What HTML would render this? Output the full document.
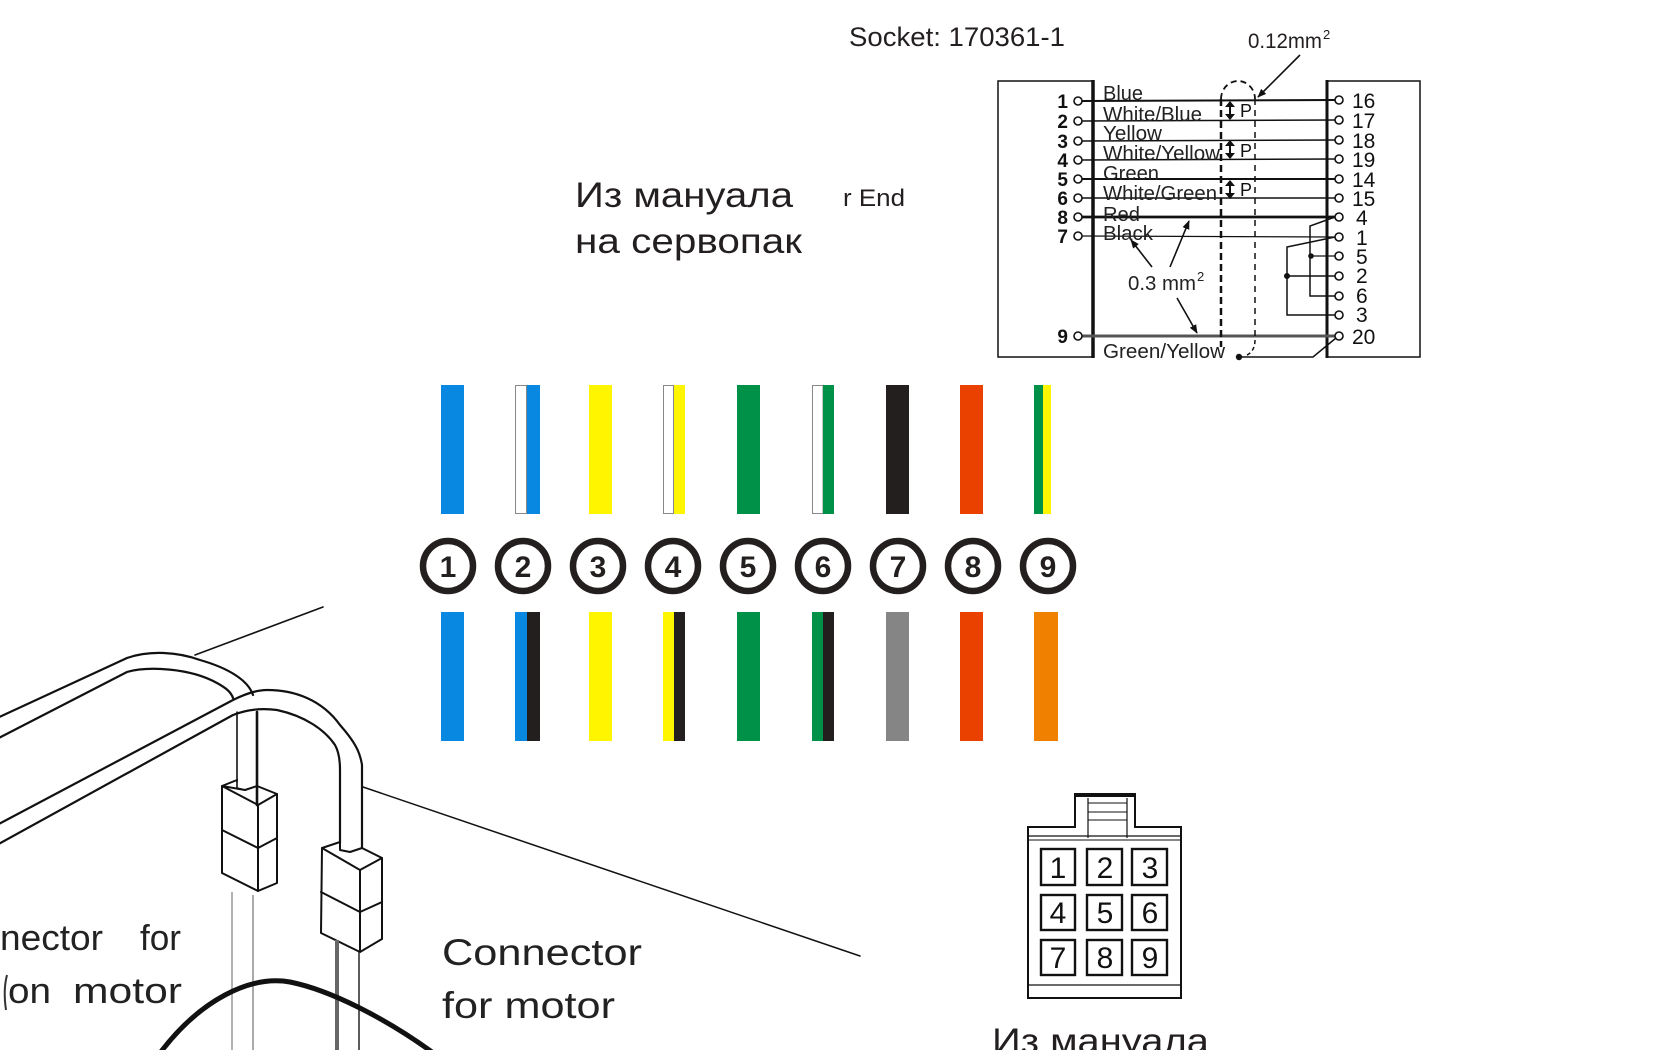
<!DOCTYPE html>
<html><head><meta charset="utf-8"><style>
html,body{margin:0;padding:0;background:#fff;}
svg{display:block;}
text{font-family:"Liberation Sans","Noto Sans CJK SC",sans-serif;}
</style></head><body>
<svg width="1680" height="1050" viewBox="0 0 1680 1050" xmlns="http://www.w3.org/2000/svg">
<defs>
<marker id="ah" viewBox="0 0 10 10" refX="9" refY="5" markerWidth="9" markerHeight="9" orient="auto" markerUnits="userSpaceOnUse">
<path d="M0,1 L10,5 L0,9 z" fill="#111"/>
</marker>
</defs>
<rect width="1680" height="1050" fill="#fff"/>

<!-- Top-left Russian text -->
<g fill="#231f20">
<text x="575" y="207" font-size="35" textLength="218" lengthAdjust="spacingAndGlyphs">Из мануала</text>
<text x="575" y="253" font-size="35" textLength="227" lengthAdjust="spacingAndGlyphs">на сервопак</text>
<text x="843" y="206" font-size="24" textLength="62" lengthAdjust="spacingAndGlyphs">r End</text>
<text x="849" y="46" font-size="27" textLength="216" lengthAdjust="spacingAndGlyphs">Socket: 170361-1</text>
<text x="1248" y="48" font-size="21" textLength="74" lengthAdjust="spacingAndGlyphs">0.12mm</text>
<text x="1323" y="39" font-size="13">2</text>
</g>

<!-- Socket wiring diagram -->
<g stroke="#111" fill="none">
<path d="M1093,81 L998,81 L998,357 L1093,357" stroke-width="1.5"/>
<line x1="1093" y1="80" x2="1093" y2="358" stroke-width="3.5"/>
<path d="M1327,81 L1420,81 L1420,357 L1327,357" stroke-width="1.5"/>
<line x1="1327" y1="80" x2="1327" y2="358" stroke-width="3"/>
</g>

<!-- left pin numbers -->
<g font-size="19" font-weight="bold" fill="#111" text-anchor="end">
<text x="1068" y="108">1</text>
<text x="1068" y="128">2</text>
<text x="1068" y="148">3</text>
<text x="1068" y="167">4</text>
<text x="1068" y="186">5</text>
<text x="1068" y="205">6</text>
<text x="1068" y="224">8</text>
<text x="1068" y="243">7</text>
<text x="1068" y="343">9</text>
</g>
<!-- right pin numbers -->
<g font-size="21" fill="#111">
<text x="1352" y="108">16</text>
<text x="1352" y="128">17</text>
<text x="1352" y="148">18</text>
<text x="1352" y="167">19</text>
<text x="1352" y="187">14</text>
<text x="1352" y="206">15</text>
<text x="1356" y="225">4</text>
<text x="1356" y="245">1</text>
<text x="1356" y="264">5</text>
<text x="1356" y="283">2</text>
<text x="1356" y="303">6</text>
<text x="1356" y="322">3</text>
<text x="1352" y="344">20</text>
</g>

<!-- wires -->
<g stroke="#111" fill="none">
<line x1="1082" y1="101" x2="1335" y2="100" stroke-width="2"/>
<line x1="1082" y1="121" x2="1335" y2="120" stroke-width="1.5"/>
<line x1="1082" y1="141" x2="1335" y2="140" stroke-width="1.5"/>
<line x1="1082" y1="160" x2="1335" y2="159" stroke-width="1.5"/>
<line x1="1082" y1="179" x2="1335" y2="179" stroke-width="2"/>
<line x1="1082" y1="198" x2="1335" y2="198" stroke-width="1.5"/>
<line x1="1082" y1="217" x2="1335" y2="217" stroke-width="2.8"/>
<line x1="1082" y1="236" x2="1335" y2="237" stroke-width="1.3"/>
<line x1="1082" y1="336" x2="1335" y2="336" stroke-width="3" stroke="#555"/>
<path d="M1335,217 L1310,226 L1310,296 L1335,296" stroke-width="1.5"/>
<line x1="1311" y1="256" x2="1335" y2="256" stroke-width="1.3"/>
<path d="M1335,237 L1287,247 L1287,315 L1335,315" stroke-width="1.5"/>
<line x1="1287" y1="276" x2="1335" y2="276" stroke-width="1.5"/>
<path d="M1336,338 L1313,357 L1240,357" stroke-width="1.5"/>
</g>
<g fill="#111">
<circle cx="1311" cy="256" r="2.8"/>
<circle cx="1287" cy="276" r="3"/>
<circle cx="1239" cy="357" r="3.2"/>
</g>
<!-- pin circles -->
<g fill="#fff" stroke="#111" stroke-width="1.6">
<circle cx="1078" cy="101" r="4"/><circle cx="1078" cy="121" r="4"/><circle cx="1078" cy="141" r="4"/>
<circle cx="1078" cy="160" r="4"/><circle cx="1078" cy="179" r="4"/><circle cx="1078" cy="198" r="4"/>
<circle cx="1078" cy="217" r="4"/><circle cx="1078" cy="236" r="4"/><circle cx="1078" cy="336" r="4"/>
<circle cx="1339" cy="100" r="4"/><circle cx="1339" cy="120" r="4"/><circle cx="1339" cy="140" r="4"/>
<circle cx="1339" cy="159" r="4"/><circle cx="1339" cy="179" r="4"/><circle cx="1339" cy="198" r="4"/>
<circle cx="1339" cy="217" r="4"/><circle cx="1339" cy="237" r="4"/><circle cx="1339" cy="256" r="4"/>
<circle cx="1339" cy="276" r="4"/><circle cx="1339" cy="296" r="4"/><circle cx="1339" cy="315" r="4"/>
<circle cx="1339" cy="336" r="4"/>
</g>

<!-- wire labels -->
<g font-size="20" fill="#222">
<text x="1103" y="100" textLength="40" lengthAdjust="spacingAndGlyphs">Blue</text>
<text x="1103" y="121" textLength="99" lengthAdjust="spacingAndGlyphs">White/Blue</text>
<text x="1103" y="140" textLength="59" lengthAdjust="spacingAndGlyphs">Yellow</text>
<text x="1103" y="160" textLength="117" lengthAdjust="spacingAndGlyphs">White/Yellow</text>
<text x="1103" y="180" textLength="56" lengthAdjust="spacingAndGlyphs">Green</text>
<text x="1103" y="200" textLength="114" lengthAdjust="spacingAndGlyphs">White/Green</text>
<text x="1103" y="221" textLength="37" lengthAdjust="spacingAndGlyphs">Red</text>
<text x="1103" y="240" textLength="50" lengthAdjust="spacingAndGlyphs">Black</text>
<text x="1103" y="358" textLength="122" lengthAdjust="spacingAndGlyphs">Green/Yellow</text>
<text x="1128" y="290" textLength="68" lengthAdjust="spacingAndGlyphs">0.3 mm</text>
<text x="1197" y="281" font-size="13">2</text>
</g>

<!-- shield dashed -->
<g fill="none" stroke="#111">
<line x1="1221" y1="99" x2="1221" y2="347" stroke-width="2.5" stroke-dasharray="7 4"/>
<line x1="1255" y1="99" x2="1255" y2="340" stroke-width="1.5" stroke-dasharray="6 5"/>
<path d="M1221,99 A17,18 0 0 1 1255,99" stroke-width="1.8" stroke-dasharray="6 4"/>
<path d="M1255,340 Q1255,352 1245,356" stroke-width="1.5" stroke-dasharray="4 3"/>
</g>
<!-- P markers -->
<g stroke="#111" stroke-width="2" fill="#111">
<line x1="1230" y1="105" x2="1230" y2="116"/>
<path d="M1225,107 L1230,101 L1235,107 z M1225,114 L1230,120 L1235,114 z" stroke="none"/>
<line x1="1230" y1="144" x2="1230" y2="155"/>
<path d="M1225,146 L1230,140 L1235,146 z M1225,153 L1230,159 L1235,153 z" stroke="none"/>
<line x1="1230" y1="184" x2="1230" y2="195"/>
<path d="M1225,186 L1230,180 L1235,186 z M1225,193 L1230,199 L1235,193 z" stroke="none"/>
</g>
<g font-size="18" fill="#111">
<text x="1240" y="117">P</text>
<text x="1240" y="157">P</text>
<text x="1240" y="196">P</text>
</g>
<!-- annotation arrows -->
<g stroke="#111" stroke-width="1.6" fill="none" marker-end="url(#ah)">
<line x1="1300" y1="55" x2="1258" y2="97"/>
<line x1="1152" y1="267" x2="1131" y2="240"/>
<line x1="1170" y1="267" x2="1189" y2="221"/>
<line x1="1177" y1="298" x2="1197" y2="333"/>
</g>

<!-- color bars top -->
<g>
<rect x="441" y="385" width="23" height="129" fill="#0888e0"/>
<rect x="515.5" y="385.5" width="11" height="128" fill="#fff" stroke="#888" stroke-width="1"/>
<rect x="527" y="385" width="13" height="129" fill="#0888e0"/>
<rect x="589" y="385" width="23" height="129" fill="#fff500"/>
<rect x="663.5" y="385.5" width="10" height="128" fill="#fff" stroke="#888" stroke-width="1"/>
<rect x="674" y="385" width="11" height="129" fill="#fff500"/>
<rect x="737" y="385" width="23" height="129" fill="#009148"/>
<rect x="812.5" y="385.5" width="10.5" height="128" fill="#fff" stroke="#888" stroke-width="1"/>
<rect x="823" y="385" width="11" height="129" fill="#009148"/>
<rect x="886" y="385" width="23" height="129" fill="#231f1e"/>
<rect x="960" y="385" width="23" height="129" fill="#ea4000"/>
<rect x="1034" y="385" width="9" height="129" fill="#009148"/>
<rect x="1043" y="385" width="8" height="129" fill="#fff500"/>
</g>
<!-- color bars bottom -->
<g>
<rect x="441" y="612" width="23" height="129" fill="#0888e0"/>
<rect x="515" y="612" width="12" height="129" fill="#0888e0"/>
<rect x="527" y="612" width="13" height="129" fill="#231f1e"/>
<rect x="589" y="612" width="23" height="129" fill="#fff500"/>
<rect x="663" y="612" width="11" height="129" fill="#fff500"/>
<rect x="674" y="612" width="11" height="129" fill="#231f1e"/>
<rect x="737" y="612" width="23" height="129" fill="#009148"/>
<rect x="812" y="612" width="11" height="129" fill="#009148"/>
<rect x="823" y="612" width="11" height="129" fill="#231f1e"/>
<rect x="886" y="612" width="23" height="129" fill="#858585"/>
<rect x="960" y="612" width="23" height="129" fill="#ea4000"/>
<rect x="1034" y="612" width="24" height="129" fill="#f08000"/>
</g>
<!-- number badges -->
<g fill="#fff" stroke="#231f1e" stroke-width="6.5">
<circle cx="448" cy="566" r="25"/><circle cx="523" cy="566" r="25"/><circle cx="598" cy="566" r="25"/>
<circle cx="673" cy="566" r="25"/><circle cx="748" cy="566" r="25"/><circle cx="823" cy="566" r="25"/>
<circle cx="898" cy="566" r="25"/><circle cx="973" cy="566" r="25"/><circle cx="1048" cy="566" r="25"/>
</g>
<g font-size="30" font-weight="bold" fill="#231f1e" text-anchor="middle">
<text x="448" y="577">1</text><text x="523" y="577">2</text><text x="598" y="577">3</text>
<text x="673" y="577">4</text><text x="748" y="577">5</text><text x="823" y="577">6</text>
<text x="898" y="577">7</text><text x="973" y="577">8</text><text x="1048" y="577">9</text>
</g>

<!-- bottom-right 9-pin connector -->
<g stroke="#111" fill="none">
<path d="M1028,827 L1075,827 L1075,794 L1135,794 L1135,827 L1181,827 L1181,998 L1028,998 Z" stroke-width="2"/>
<line x1="1075" y1="795" x2="1135" y2="795" stroke-width="4"/>
<line x1="1088" y1="798" x2="1088" y2="838" stroke-width="1.2"/>
<line x1="1127" y1="798" x2="1127" y2="838" stroke-width="1.2"/>
<line x1="1088" y1="803" x2="1127" y2="803" stroke-width="1"/>
<line x1="1088" y1="812" x2="1127" y2="812" stroke-width="1"/>
<line x1="1088" y1="820" x2="1127" y2="820" stroke-width="1"/>
<line x1="1028" y1="836" x2="1181" y2="836" stroke-width="1.2"/>
<line x1="1028" y1="840" x2="1181" y2="840" stroke-width="1"/>
<line x1="1028" y1="985" x2="1181" y2="985" stroke-width="1.2"/>
<g stroke-width="2.4">
<rect x="1041" y="849" width="34" height="36"/><rect x="1087" y="849" width="35" height="36"/><rect x="1132" y="849" width="35" height="36"/>
<rect x="1041" y="895" width="34" height="35"/><rect x="1087" y="895" width="35" height="35"/><rect x="1132" y="895" width="35" height="35"/>
<rect x="1041" y="940" width="34" height="35"/><rect x="1087" y="940" width="35" height="35"/><rect x="1132" y="940" width="35" height="35"/>
</g>
</g>
<g font-size="30" fill="#111" text-anchor="middle">
<text x="1058" y="878">1</text><text x="1105" y="878">2</text><text x="1150" y="878">3</text>
<text x="1058" y="923">4</text><text x="1105" y="923">5</text><text x="1150" y="923">6</text>
<text x="1058" y="968">7</text><text x="1105" y="968">8</text><text x="1150" y="968">9</text>
</g>
<text x="992" y="1053" font-size="35" fill="#231f20" textLength="217" lengthAdjust="spacingAndGlyphs">Из мануала</text>

<!-- bottom-left line art -->
<g stroke="#111" fill="none" stroke-linecap="round" stroke-linejoin="round">
<line x1="195" y1="655" x2="323" y2="607" stroke-width="1.6"/>
<path d="M-5,719 L127,658 C150,650 178,652 200,660 C228,668 248,680 253,695" stroke-width="2.2"/>
<path d="M-5,740 L127,672 C148,666 190,668 217,683 C226,688 231,692 233,698" stroke-width="2.2"/>
<path d="M-5,826 L233,700 C245,694 256,690 267,690 C295,690 322,700 340,725 C355,742 360,752 362,765 L362,848" stroke-width="2.2"/>
<path d="M-5,846 L233,715 C248,709 262,708 277,710 C305,716 325,730 335,745 C339,752 340,760 340,770 L340,843" stroke-width="2.2"/>
<line x1="237" y1="712" x2="237" y2="782" stroke-width="1.6"/>
<line x1="257" y1="712" x2="257" y2="805" stroke-width="2.6"/>
<path d="M222,786 L237,780 M245,790 L257,786 L277,794 L258,805 L222,786 Z" stroke-width="2"/>
<path d="M237,780 L237,788 L245,790" stroke-width="1.6"/>
<path d="M222,786 L222,873 L258,891 L277,883 L277,794" stroke-width="2"/>
<line x1="258" y1="805" x2="258" y2="891" stroke-width="2"/>
<path d="M222,830 L258,848 L277,838" stroke-width="2"/>
<path d="M322,848 L340,842 L340,850 L350,852 L362,848 L382,858 L360,870 L322,848 Z" stroke-width="2"/>
<path d="M322,848 L321,933 L360,952 L382,939 L382,858" stroke-width="2"/>
<line x1="360" y1="870" x2="360" y2="952" stroke-width="2"/>
<path d="M321,892 L360,912 L382,902" stroke-width="2"/>
<line x1="363" y1="787" x2="860" y2="956" stroke-width="1.5"/>
</g>
<g fill="none">
<line x1="232" y1="892" x2="232" y2="1050" stroke="#999" stroke-width="1.5"/>
<line x1="253" y1="895" x2="253" y2="1050" stroke="#aaa" stroke-width="2"/>
<line x1="337" y1="940" x2="337" y2="1050" stroke="#666" stroke-width="4"/>
<line x1="359" y1="952" x2="359" y2="1050" stroke="#333" stroke-width="1.6"/>
<path d="M160,1053 C200,1000 250,975 290,982 C330,990 385,1018 432,1052" stroke="#111" stroke-width="5"/>
</g>
<g fill="#222" font-size="36">
<text x="0" y="950" textLength="103" lengthAdjust="spacingAndGlyphs">nector</text>
<text x="140" y="950" textLength="41" lengthAdjust="spacingAndGlyphs">for</text>
<text x="8" y="1003" textLength="43" lengthAdjust="spacingAndGlyphs">on</text>
<text x="73" y="1003" textLength="109" lengthAdjust="spacingAndGlyphs">motor</text>
<text x="442" y="965" font-size="37" textLength="200" lengthAdjust="spacingAndGlyphs">Connector</text>
<text x="442" y="1018" font-size="37" textLength="173" lengthAdjust="spacingAndGlyphs">for motor</text>
</g>
<path d="M7,975 Q3,990 6,1010" stroke="#333" stroke-width="2" fill="none"/>
</svg>
</body></html>
